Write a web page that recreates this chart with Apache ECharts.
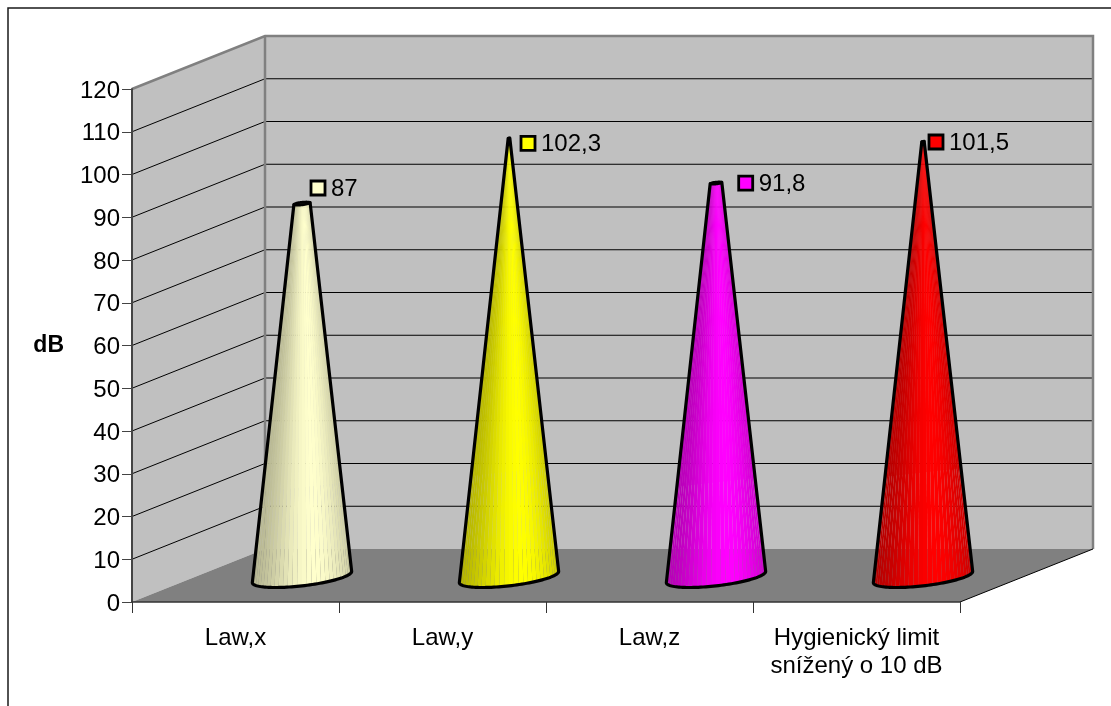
<!DOCTYPE html>
<html>
<head>
<meta charset="utf-8">
<style>html,body{margin:0;padding:0;background:#fff}#chart{width:1111px;height:706px}</style>
<script src="https://cdn.jsdelivr.net/npm/echarts@6/dist/echarts.min.js"></script>
</head>
<body>
<div id="chart"></div>
<script>
// Measured noise levels
const categories = ['Law,x', 'Law,y', 'Law,z', 'Hygienický limit\nsnížený o 10 dB'];
const values = [87, 102.3, 91.8, 101.5];
const coneColors = ['#ffffcc', '#ffff00', '#ff00ff', '#ff0000'];
const yTicks = [10, 20, 30, 40, 50, 60, 70, 80, 90, 100, 110, 120];

// Oblique projection of the chart box
const DEPTH = [133, -53];
const APEX_VALUE = 104;               // value at which every cone would come to a point
const BASE_A = 42;                    // base ellipse, across
const BASE_B = [26.5, -10.5];         // base ellipse, along the depth direction
const BASE_DROP = 1.5;                // the rim sits slightly in front of the mid-depth plane
const FACETS = 32;
const KEY_SHIFT = [[16, -15.6], [19, 5.3], [29.7, 0], [13, 0.4]]; // value key relative to the cone tip
const FONT = 'Liberation Sans, Arial, sans-serif';

function shade(hex, k) {
  const n = parseInt(hex.slice(1), 16);
  const c = [(n >> 16) & 255, (n >> 8) & 255, n & 255].map(v => Math.round(v * k));
  return 'rgb(' + c.join(',') + ')';
}

// Brightness across the cone, f running from its left edge to its right edge
function lightAt(f) {
  return f < 0.64
    ? 0.72 + 0.28 * Math.pow(Math.sin(f / 0.64 * Math.PI / 2), 1.6)
    : 1 - 0.2 * Math.pow((f - 0.64) / 0.36, 1.6);
}

// Side wall, back wall, floor and gridlines
function renderBox(params, api) {
  const s = params.coordSys;
  const L = s.x, R = s.x + s.width, T = s.y, B = s.y + s.height;
  const dx = DEPTH[0], dy = DEPTH[1];
  const kids = [
    { type: 'polygon', shape: { points: [[L, T], [L + dx, T + dy], [R + dx, T + dy], [R + dx, B + dy], [L + dx, B + dy], [L, B]] },
      style: { fill: '#c0c0c0' } },
    { type: 'polygon', shape: { points: [[L, B], [L + dx, B + dy], [R + dx, B + dy], [R, B]] }, style: { fill: '#808080' } }
  ];
  yTicks.slice(0, -1).forEach(v => {
    const y = api.coord([0, v])[1];
    kids.push({ type: 'polyline', shape: { points: [[L, y], [L + dx, y + dy], [R + dx, y + dy]] },
      style: { fill: 'none', stroke: '#000', lineWidth: 1 } });
  });
  kids.push({ type: 'polyline', shape: { points: [[L, T], [L + dx, T + dy], [R + dx, T + dy], [R + dx, B + dy]] },
    style: { fill: 'none', stroke: '#808080', lineWidth: 2.5 } });
  kids.push({ type: 'line', shape: { x1: L + dx, y1: T + dy, x2: L + dx, y2: B + dy },
    style: { stroke: '#808080', lineWidth: 2.5 } });
  kids.push({ type: 'line', shape: { x1: R, y1: B, x2: R + dx, y2: B + dy },
    style: { stroke: '#000', lineWidth: 1 } });
  return { type: 'group', children: kids };
}

// One cone standing half way into the box, cut off at its value
function renderCone(params, api) {
  const i = api.value(0), v = api.value(1);
  const color = coneColors[i];
  const base = api.coord([i, 0]), top = api.coord([i, v]);
  const cx = base[0] + DEPTH[0] / 2, by = base[1] + DEPTH[1] / 2 + BASE_DROP, ty = top[1] + DEPTH[1] / 2;
  const r = 1 - v / APEX_VALUE;
  const t0 = Math.atan2(BASE_B[0], BASE_A);
  const ring = (t, y, k) => [cx + k * (BASE_A * Math.cos(t) + BASE_B[0] * Math.sin(t)), y + k * BASE_B[1] * Math.sin(t)];
  const span = Math.hypot(BASE_A, BASE_B[0]);
  const kids = [];

  // Soft backing so the facet seams stay faint above the lower part of the cone
  const cut = 0.24, rc = 1 - cut * (1 - r), yc = by + (ty - by) * cut;
  const stops = [];
  for (let n = 0; n <= 10; n++) stops.push({ offset: n / 10, color: shade(color, lightAt(n / 10)) });
  kids.push({ type: 'polygon',
    shape: { points: [ring(t0 - Math.PI, yc, rc), ring(t0, yc, rc), ring(t0, ty, r), ring(t0 - Math.PI, ty, r)] },
    style: { opacity: 0.6, fill: new echarts.graphic.LinearGradient(cx - span * rc, 0, cx + span * rc, 0, stops, true) } });

  for (let n = 0; n < FACETS; n++) {
    const a = t0 - Math.PI + Math.PI * n / FACETS, b = t0 - Math.PI + Math.PI * (n + 1) / FACETS;
    const f = (ring((a + b) / 2, by, 1)[0] - cx + span) / (2 * span);
    kids.push({ type: 'polygon', shape: { points: [ring(a, by, 1), ring(b, by, 1), ring(b, ty, r), ring(a, ty, r)] },
      style: { fill: shade(color, lightAt(f)) } });
  }
  const outline = [];
  for (let n = 0; n <= 60; n++) outline.push(ring(t0 - Math.PI + Math.PI * n / 60, by, 1));
  outline.push(ring(t0, ty, r), ring(t0 - Math.PI, ty, r));
  kids.push({ type: 'polygon', shape: { points: outline },
    style: { fill: 'none', stroke: '#000', lineWidth: 3.2, lineJoin: 'round' } });
  const cap = [];
  for (let n = 0; n < 40; n++) cap.push(ring(2 * Math.PI * n / 40, ty, r));
  kids.push({ type: 'polygon', shape: { points: cap },
    style: { fill: '#111', stroke: '#000', lineWidth: 2.5, lineJoin: 'round' } });
  // Value key and text
  const kx = cx + KEY_SHIFT[i][0], ky = ty + KEY_SHIFT[i][1];
  kids.push({ type: 'rect', shape: { x: kx - 7, y: ky - 7, width: 14, height: 14 },
    style: { fill: color, stroke: '#000', lineWidth: 2.8 } });
  kids.push({ type: 'text', x: kx + 13, y: ky + 1,
    style: { text: String(v).replace('.', ','), fill: '#000', font: '24px ' + FONT, textAlign: 'left', textVerticalAlign: 'middle' } });
  return { type: 'group', children: kids };
}

const chart = echarts.init(document.getElementById('chart'), null, { renderer: 'canvas' });
chart.setOption({
  animation: false,
  backgroundColor: '#fff',
  graphic: [{ type: 'polyline', z: 0, silent: true,
    shape: { points: [[8, 706], [8, 8], [1111, 8]] }, style: { fill: 'none', stroke: '#1a1a1a', lineWidth: 1.5 } }],
  grid: { left: 132, top: 89, width: 828, height: 513 },
  xAxis: {
    type: 'category', data: categories, z: 4,
    axisLine: { lineStyle: { color: '#333', width: 1.5 } },
    axisTick: { show: true, alignWithLabel: false, length: 11, lineStyle: { color: '#333', width: 1 } },
    axisLabel: { color: '#000', fontFamily: FONT, fontSize: 24, lineHeight: 28, margin: 22, interval: 0 }
  },
  yAxis: {
    type: 'value', min: 0, max: 120, interval: 10, z: 4,
    name: 'dB', nameLocation: 'middle', nameGap: 68, nameRotate: 0,
    nameTextStyle: { color: '#000', fontFamily: FONT, fontSize: 23, fontWeight: 'bold' },
    axisLine: { show: true, lineStyle: { color: '#444', width: 2 } },
    axisTick: { show: true, length: 10, lineStyle: { color: '#444', width: 1 } },
    axisLabel: { color: '#000', fontFamily: FONT, fontSize: 24, margin: 12, verticalAlign: 'top', lineHeight: 4 },
    splitLine: { show: false }
  },
  series: [
    { type: 'custom', z: 1, silent: true, clip: false, coordinateSystem: 'cartesian2d', data: [[0, 0]], renderItem: renderBox },
    { type: 'custom', z: 5, silent: true, clip: false, coordinateSystem: 'cartesian2d',
      data: values.map((v, i) => [i, v]), encode: { x: 0, y: 1 }, renderItem: renderCone }
  ]
});
</script>
</body>
</html>
